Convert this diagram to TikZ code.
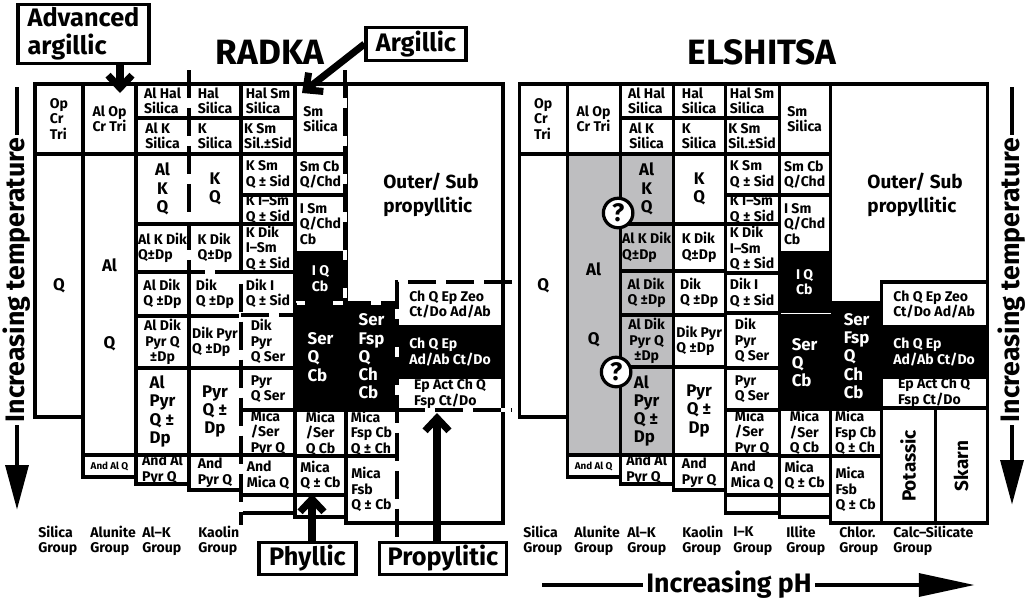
\documentclass[tikz,border=0pt]{standalone}
\usepackage{fontspec}
\setmainfont{Fira Sans}
\usetikzlibrary{arrows.meta}

\definecolor{cellgrey}{RGB}{190,190,192}
\newcommand{\cellfont}{\fontsize{10}{11}\selectfont\bfseries}
\newcommand{\bigcellfont}{\fontsize{12}{13}\selectfont\bfseries}

\tikzset{
  cellbox/.style={draw, line width=2.3pt, align=left, font=\cellfont, inner sep=0pt},
  darkcell/.style={fill=black, text=white},
  greycell/.style={fill=cellgrey},
  bigtext/.style={font=\bigcellfont},
  tinytext/.style={font=\fontsize{7}{8}\selectfont\bfseries},
  zone/.style={line width=3.5pt, dash pattern=on 20pt off 7pt,
    preaction={draw=white, solid, line width=3.5pt}},
  zonelbl/.style={draw, line width=2.3pt, fill=white, inner xsep=4pt, inner ysep=2pt,
    font=\fontsize{18}{20}\selectfont\bfseries},
  bigarrow/.style={line width=5pt, -{Straight Barb[length=9pt, width=17pt]}},
  title/.style={font=\fontsize{25}{30}\selectfont\bfseries},
  axislbl/.style={font=\fontsize{19}{20}\selectfont\bfseries, inner sep=2pt},
  axisline/.style={line width=3.5pt},
  grouplbl/.style={anchor=west, align=left, inner sep=0pt, font=\cellfont},
  outerlbl/.style={align=left, font=\fontsize{13.5}{17}\selectfont\bfseries},
  sidelbl/.style={font=\fontsize{13.5}{15}\selectfont\bfseries},
  qmark/.style={circle, draw, fill=white, line width=2.3pt, minimum size=21pt, inner sep=0pt,
    font=\fontsize{18}{18}\selectfont\bfseries}
}

\begin{document}
\begin{tikzpicture}[x=0.025cm, y=-0.025cm]
\useasboundingbox (0,0) rectangle (1032,600);
% one cell: style, corner, corner, name, text
\def\drawcell#1#2#3#4#5{\draw[cellbox,#1] (#2) rectangle (#3) node[midway] (#4) {#5};}

% RADKA
\drawcell{}{35,84}{83,154}{r-opcrtri}{Op\\Cr\\Tri}
\drawcell{bigtext}{35,154}{83,417}{r-q}{Q}
\drawcell{}{83,84}{136,154}{r-alopcrtri}{Al Op\\Cr Tri}
\drawcell{bigtext,align=center}{83,154}{136,455}{r-alq}{Al\\[42pt]Q}
\drawcell{tinytext}{83,455}{136,477}{r-andalq}{And Al Q}
\drawcell{}{136,84}{189,118}{r-alhal}{Al Hal\\Silica}
\drawcell{}{136,118}{189,154}{r-alksil}{Al K\\Silica}
\drawcell{bigtext,align=center}{136,154}{189,224}{r-alkq}{Al\\K\\Q}
\drawcell{}{136,224}{189,272}{r-alkdik}{Al K Dik\\Q±Dp}
\drawcell{}{136,272}{189,316}{r-aldik}{Al Dik\\Q ±Dp}
\drawcell{align=center}{136,316}{189,368}{r-aldikpyr}{Al Dik\\Pyr Q\\±Dp}
\drawcell{bigtext}{136,368}{189,455}{r-alpyr}{Al\\Pyr\\Q ±\\Dp}
\drawcell{}{136,455}{189,484}{r-andalpyr}{And Al\\Pyr Q}
\drawcell{}{189,84}{241,118}{r-halsil}{Hal\\Silica}
\drawcell{}{189,118}{241,154}{r-ksil}{K\\Silica}
\drawcell{bigtext,align=center}{189,154}{241,224}{r-kq}{K\\Q}
\drawcell{}{189,224}{241,272}{r-kdik}{K Dik\\Q±Dp}
\drawcell{}{189,272}{241,316}{r-dik}{Dik\\Q ±Dp}
\drawcell{}{189,316}{241,368}{r-dikpyr}{Dik Pyr\\Q ±Dp}
\drawcell{bigtext,align=center}{189,368}{241,455}{r-pyr}{Pyr\\Q ±\\Dp}
\drawcell{}{189,455}{241,490}{r-andpyr}{And\\Pyr Q}
\drawcell{}{241,84}{295,118}{r-halsm}{Hal Sm\\Silica}
\drawcell{}{241,118}{295,154}{r-ksmsil}{K Sm\\Sil.±Sid}
\drawcell{}{241,154}{295,195}{r-ksm}{K Sm\\Q ± Sid}
\drawcell{}{241,195}{295,224}{r-kism}{K I–Sm\\Q ± Sid}
\drawcell{}{241,224}{295,272}{r-kdikism}{K Dik\\I–Sm\\Q ± Sid}
\drawcell{}{241,272}{295,315}{r-diki}{Dik I\\Q ± Sid}
\drawcell{}{241,315}{295,368}{r-dikpyrser}{Dik\\Pyr\\Q Ser}
\drawcell{}{241,368}{295,410}{r-pyrser}{Pyr\\Q Ser}
\drawcell{}{241,410}{295,455}{r-micapyr}{Mica\\/Ser\\Pyr Q}
\drawcell{}{241,455}{295,495}{r-andmica}{And\\Mica Q}
\drawcell{}{241,495}{295,513}{r-blank1}{}
\drawcell{}{295,84}{346,154}{r-smsil}{Sm\\Silica}
\drawcell{}{295,154}{346,195}{r-smcb}{Sm Cb\\Q/Chd}
\drawcell{}{295,195}{346,253}{r-ism}{I Sm\\Q/Chd\\Cb}
\drawcell{darkcell}{295,253}{346,304}{r-iqcb}{I Q\\Cb}
\drawcell{darkcell,bigtext}{295,304}{346,410}{r-serqcb}{Ser\\Q\\Cb}
\drawcell{}{295,410}{346,456}{r-micaqcb}{Mica\\/Ser\\Q Cb}
\drawcell{}{295,456}{346,495}{r-micaq}{Mica\\Q ± Cb}
\drawcell{}{295,495}{346,517}{r-blank2}{}
\drawcell{darkcell,bigtext}{346,303}{397,410}{r-serfsp}{Ser\\Fsp\\Q\\Ch\\Cb}
\drawcell{}{346,410}{397,456}{r-micafsp}{Mica\\Fsp Cb\\Q ± Ch}
\drawcell{}{346,456}{397,523}{r-micafsb}{Mica\\Fsb\\Q ± Cb}
\drawcell{}{397,282}{503,327}{r-chqepzeo}{Ch Q Ep Zeo\\Ct/Do Ad/Ab}
\drawcell{darkcell}{397,327}{503,377}{r-chqep}{Ch Q Ep\\Ad/Ab Ct/Do}
\drawcell{}{397,377}{503,410}{r-epact}{Ep Act Ch Q\\Fsp Ct/Do}
\drawcell{}{397,410}{503,523}{r-blank3}{}
\draw[cellbox] (346,84) -- (503,84) -- (503,282) -- (397,282) -- (397,303) -- (346,303) -- cycle;
\node[outerlbl] (r-outer) at (431,195) {Outer/ Sub\\propyllitic};

% zone boundaries
\draw[zone] (189,70) -- (189,272) -- (241,272) -- (241,525);
\draw[zone] (345,70) -- (345,303);
\draw[zone] (241,315) -- (295,315) -- (295,303) -- (397,303);
\draw[zone] (512,282) -- (397,282) -- (397,538);
\draw[zone] (397,410) -- (512,410);

% ELSHITSA
\begin{scope}[xshift=12.1cm]
\drawcell{}{35,84}{83,154}{e-opcrtri}{Op\\Cr\\Tri}
\drawcell{bigtext}{35,154}{83,417}{e-q}{Q}
\drawcell{}{83,84}{136,154}{e-alopcrtri}{Al Op\\Cr Tri}
\drawcell{greycell,bigtext,align=center}{83,154}{136,455}{e-alq}{Al\\[36pt]Q}
\drawcell{tinytext}{83,455}{136,477}{e-andalq}{And Al Q}
\drawcell{}{136,84}{189,118}{e-alhal}{Al Hal\\Silica}
\drawcell{}{136,118}{189,154}{e-alksil}{Al K\\Silica}
\drawcell{greycell,bigtext,align=center}{136,154}{189,224}{e-alkq}{Al\\K\\Q}
\drawcell{greycell}{136,224}{189,271}{e-alkdik}{Al K Dik\\Q±Dp}
\drawcell{greycell}{136,271}{189,315}{e-aldik}{Al Dik\\Q ±Dp}
\drawcell{greycell,align=center}{136,315}{189,367}{e-aldikpyr}{Al Dik\\Pyr Q\\±Dp}
\drawcell{greycell,bigtext}{136,367}{189,455}{e-alpyr}{Al\\Pyr\\Q ±\\Dp}
\drawcell{}{136,455}{189,484}{e-andalpyr}{And Al\\Pyr Q}
\drawcell{}{189,84}{241,118}{e-halsil}{Hal\\Silica}
\drawcell{}{189,118}{241,154}{e-ksil}{K\\Silica}
\drawcell{bigtext,align=center}{189,154}{241,224}{e-kq}{K\\Q}
\drawcell{}{189,224}{241,271}{e-kdik}{K Dik\\Q±Dp}
\drawcell{}{189,271}{241,315}{e-dik}{Dik\\Q ±Dp}
\drawcell{}{189,315}{241,367}{e-dikpyr}{Dik Pyr\\Q ±Dp}
\drawcell{bigtext,align=center}{189,367}{241,455}{e-pyr}{Pyr\\Q ±\\Dp}
\drawcell{}{189,455}{241,490}{e-andpyr}{And\\Pyr Q}
\drawcell{}{241,84}{295,118}{e-halsm}{Hal Sm\\Silica}
\drawcell{}{241,118}{295,154}{e-ksmsil}{K Sm\\Sil.±Sid}
\drawcell{}{241,154}{295,195}{e-ksm}{K Sm\\Q ± Sid}
\drawcell{}{241,195}{295,224}{e-kism}{K I–Sm\\Q ± Sid}
\drawcell{}{241,224}{295,273}{e-kdikism}{K Dik\\I–Sm\\Q ± Sid}
\drawcell{}{241,273}{295,313}{e-diki}{Dik I\\Q ± Sid}
\drawcell{}{241,313}{295,368}{e-dikpyrser}{Dik\\Pyr\\Q Ser}
\drawcell{}{241,368}{295,410}{e-pyrser}{Pyr\\Q Ser}
\drawcell{}{241,410}{295,455}{e-micapyr}{Mica\\/Ser\\Pyr Q}
\drawcell{}{241,455}{295,495}{e-andmica}{And\\Mica Q}
\drawcell{}{241,495}{295,513}{e-blank1}{}
\drawcell{}{295,84}{346,154}{e-smsil}{Sm\\Silica}
\drawcell{}{295,154}{346,195}{e-smcb}{Sm Cb\\Q/Chd}
\drawcell{}{295,195}{346,253}{e-ism}{I Sm\\Q/Chd\\Cb}
\drawcell{darkcell}{295,253}{346,311}{e-iqcb}{I Q\\Cb}
\drawcell{darkcell,bigtext}{295,316}{346,409}{e-serqcb}{Ser\\Q\\Cb}
\drawcell{}{295,409}{346,456}{e-micaqcb}{Mica\\/Ser\\Q Cb}
\drawcell{}{295,456}{346,495}{e-micaq}{Mica\\Q ± Cb}
\drawcell{}{295,495}{346,517}{e-blank2}{}
\drawcell{darkcell,bigtext}{348,303}{397,409}{e-serfsp}{Ser\\Fsp\\Q\\Ch\\Cb}
\drawcell{}{346,409}{397,456}{e-micafsp}{Mica\\Fsp Cb\\Q ± Ch}
\drawcell{}{346,456}{397,523}{e-micafsb}{Mica\\Fsb\\Q ± Cb}
\drawcell{}{397,282}{503,327}{e-chqepzeo}{Ch Q Ep Zeo\\Ct/Do Ad/Ab}
\drawcell{darkcell}{397,327}{503,377}{e-chqep}{Ch Q Ep\\Ad/Ab Ct/Do}
\drawcell{}{397,377}{503,408}{e-epact}{Ep Act Ch Q\\Fsp Ct/Do}
\drawcell{}{397,408}{451,523}{e-potbox}{}
\drawcell{}{451,408}{503,523}{e-skarnbox}{}
\node[sidelbl, rotate=90] (e-potassic) at (424,466) {Potassic};
\node[sidelbl, rotate=90] (e-skarn) at (477,466) {Skarn};
\draw[cellbox] (346,84) -- (503,84) -- (503,282) -- (397,282) -- (397,303) -- (346,303) -- cycle;
\node[outerlbl] (e-outer) at (431,195) {Outer/ Sub\\propyllitic};
\node[qmark] (e-q1) at (134,213) {?};
\node[qmark] (e-q2) at (132,372) {?};
\end{scope}

% titles and zone labels
\node[title] (radka) at (270,52) {RADKA};
\node[title] (elshitsa) at (762,52) {ELSHITSA};

\node[zonelbl, align=left, minimum width=93pt, minimum height=41pt] (advarg) at (83.5,34) {Advanced\\argillic};
\coordinate (aatip) at (120,93);
\draw[bigarrow] (advarg.south -| aatip) -- (aatip);

\node[zonelbl, minimum width=71pt, minimum height=23.5pt] (argil) at (416,44) {Argillic};
\coordinate (argtip) at (302,93);
\draw[bigarrow] (argil.west) -- (argtip);

\node[zonelbl, minimum width=69pt, minimum height=22pt] (phyllic) at (307.5,558.5) {Phyllic};
\coordinate (phtip) at (312,494);
\draw[bigarrow] (phyllic.north -| phtip) -- (phtip);

\node[zonelbl, minimum width=90pt, minimum height=22pt] (propyl) at (443,558.5) {Propylitic};
\coordinate (prtip) at (437,413);
\draw[bigarrow] (propyl.north -| prtip) -- (prtip);

% group labels
\node[grouplbl] (g-r-silica) at (38,541) {Silica\\Group};
\node[grouplbl] (g-r-alunite) at (90,541) {Alunite\\Group};
\node[grouplbl] (g-r-alk) at (142,541) {Al–K\\Group};
\node[grouplbl] (g-r-kaolin) at (198,541) {Kaolin\\Group};
\node[grouplbl] (g-e-silica) at (523,541) {Silica\\Group};
\node[grouplbl] (g-e-alunite) at (574,541) {Alunite\\Group};
\node[grouplbl] (g-e-alk) at (627,541) {Al–K\\Group};
\node[grouplbl] (g-e-kaolin) at (682,541) {Kaolin\\Group};
\node[grouplbl] (g-e-ik) at (733,541) {I–K\\Group};
\node[grouplbl] (g-e-illite) at (786,541) {Illite\\Group};
\node[grouplbl] (g-e-chlor) at (839,541) {Chlor.\\Group};
\node[grouplbl] (g-e-calc) at (893,541) {Calc–Silicate\\Group};

% axes
\node[axislbl, rotate=90] (ltemp) at (17,280) {Increasing temperature};
\coordinate (ltop) at (17,87);
\coordinate (lbot) at (17,510);
\draw[axisline] (ltemp.east) -- (ltop);
\draw[axisline, -{Triangle[length=32pt, width=16pt]}] (ltemp.west) -- (lbot);

\node[axislbl, rotate=90] (rtemp) at (1012,280) {Increasing temperature};
\coordinate (rtop) at (1012,87);
\coordinate (rbot) at (1012,505);
\draw[axisline] (rtemp.east) -- (rtop);
\draw[axisline, -{Triangle[length=32pt, width=16pt]}] (rtemp.west) -- (rbot);

\node[axislbl] (phlbl) at (729,585) {Increasing pH};
\coordinate (phl) at (542,585);
\coordinate (phr) at (975,585);
\draw[axisline] (phl) -- (phlbl.west);
\draw[axisline, -{Triangle[length=40pt, width=16pt]}] (phlbl.east) -- (phr);
\end{tikzpicture}
\end{document}
